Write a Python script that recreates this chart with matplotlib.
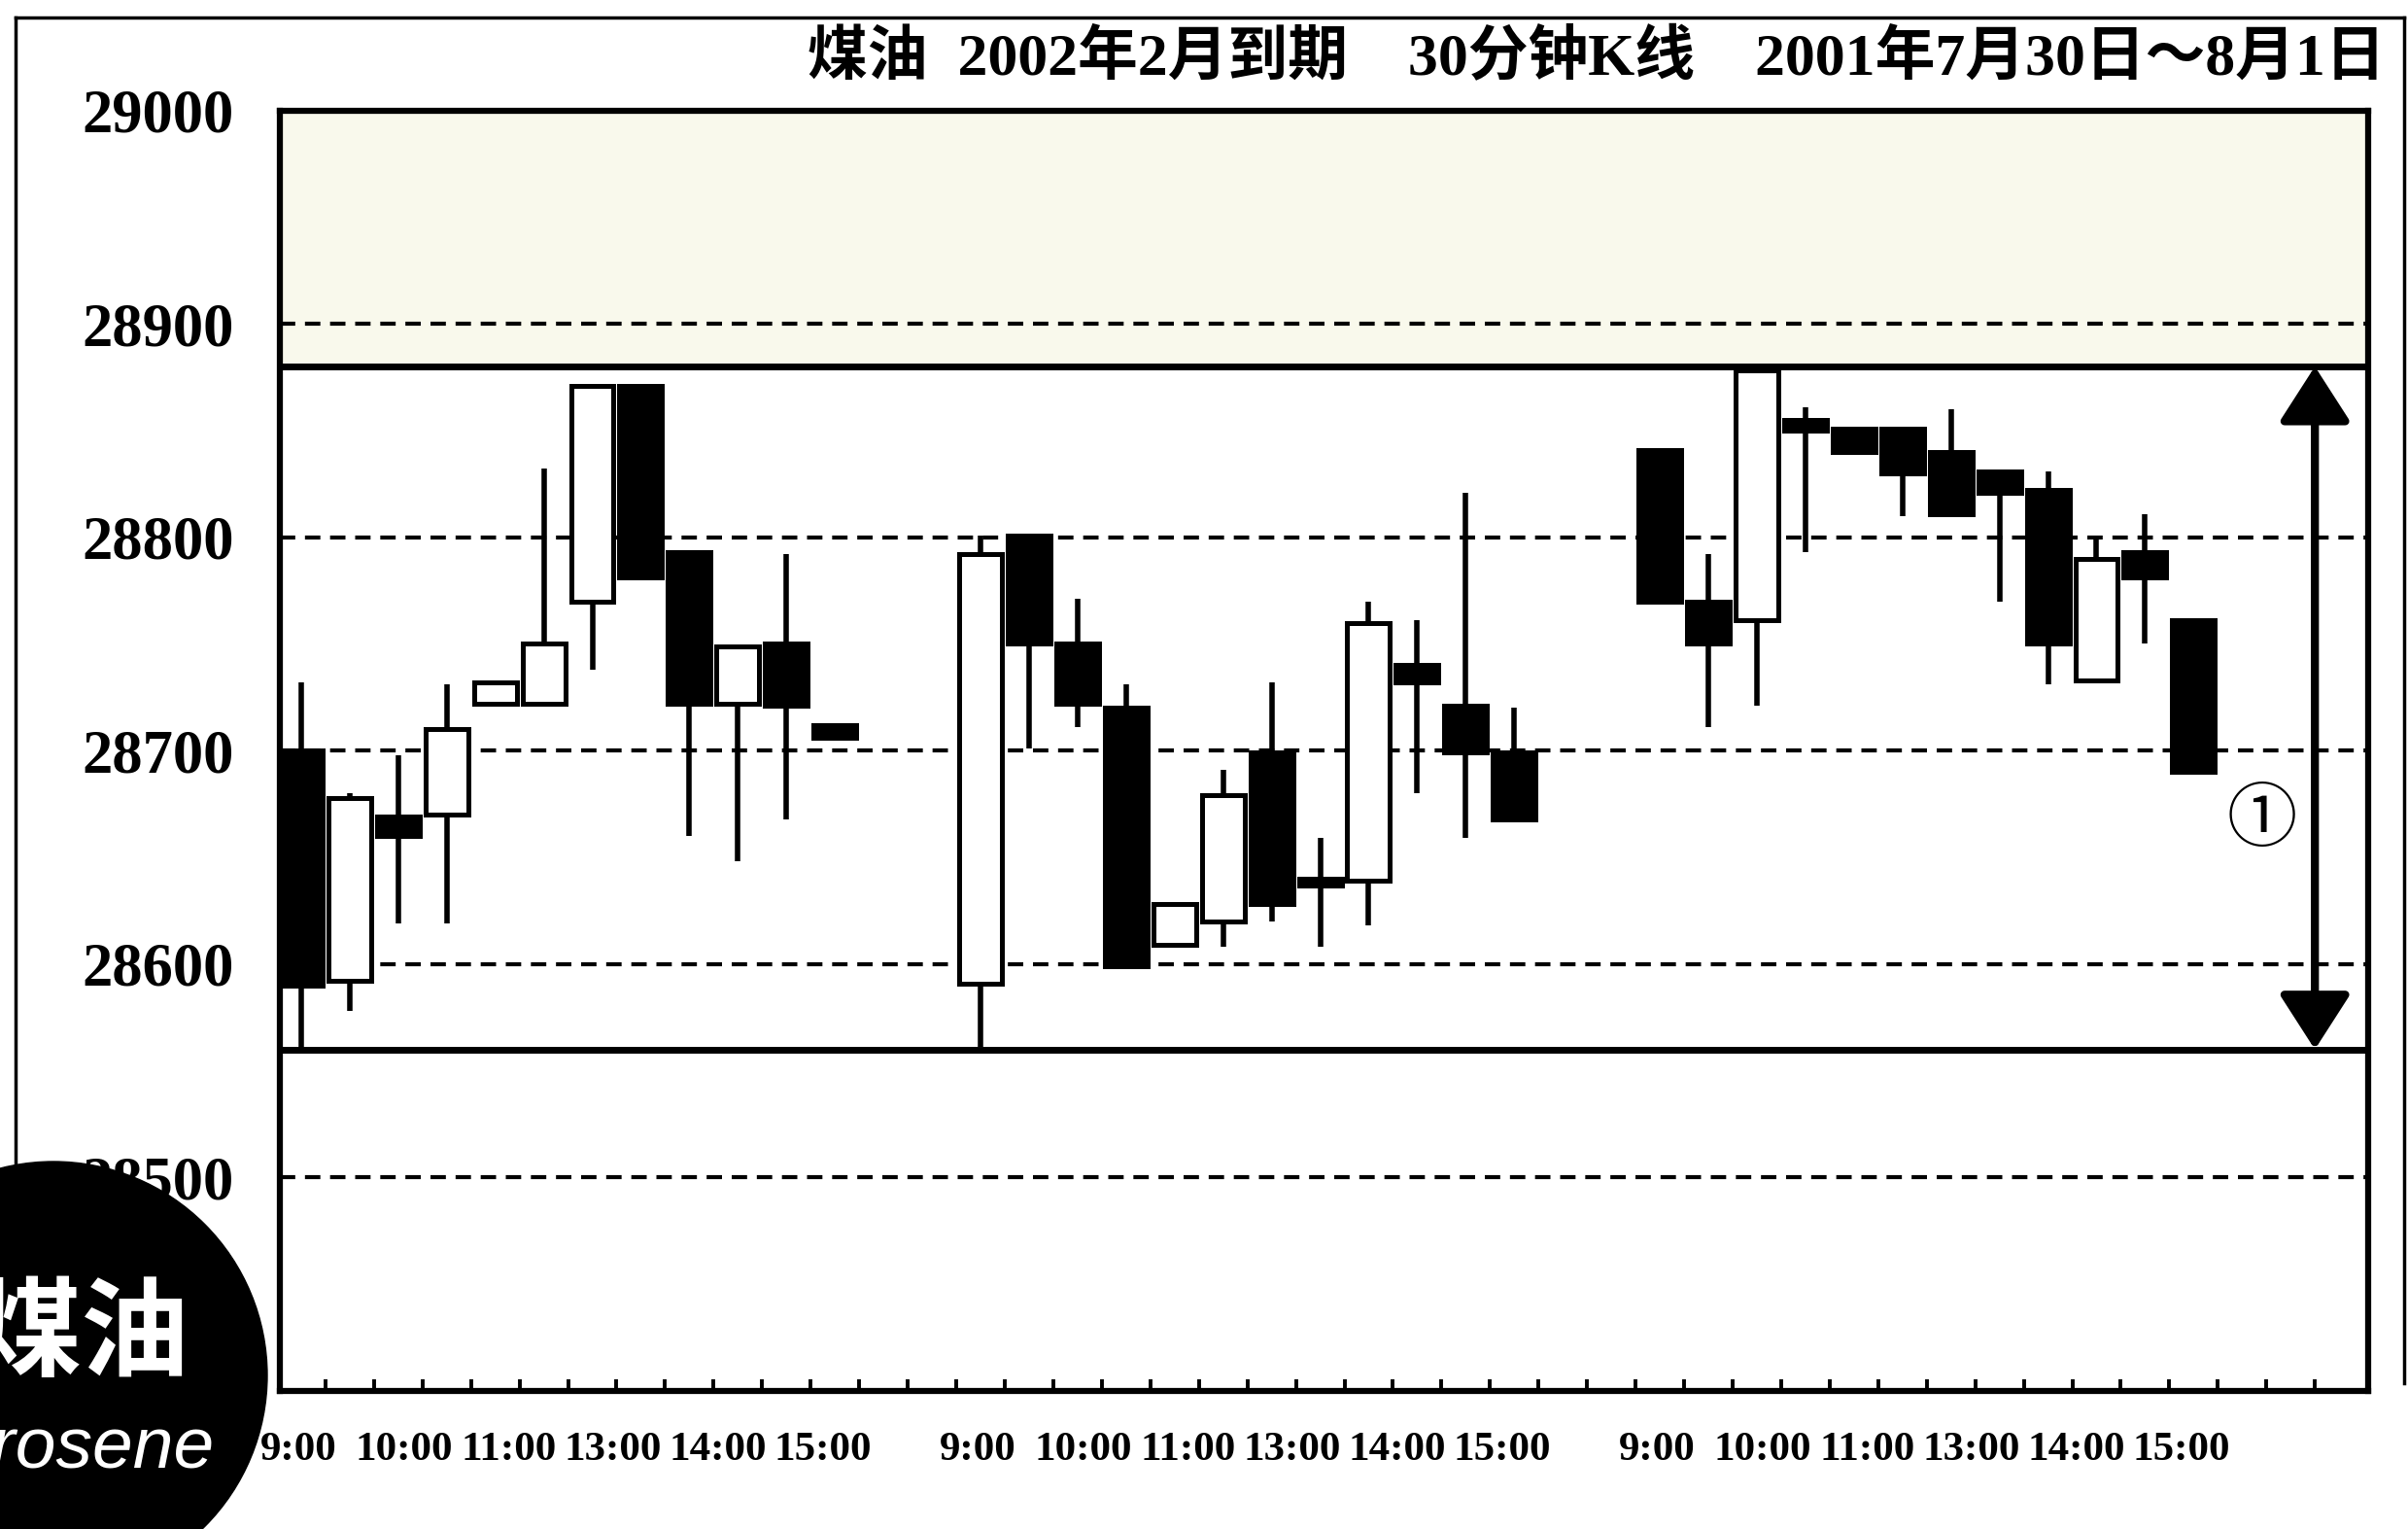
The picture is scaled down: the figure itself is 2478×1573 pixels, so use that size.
import matplotlib.pyplot as plt
from matplotlib.patches import Circle
from matplotlib.lines import Line2D

plt.rcParams["font.family"] = ["Liberation Serif", "Noto Sans CJK SC"]

# 30-minute bars: slot on the x axis (two empty slots between sessions)
slots = list(range(0, 12)) + list(range(14, 26)) + list(range(28, 40))
opens = [28700, 28592, 28669, 28670, 28722, 28722, 28770, 28871, 28793, 28722, 28750, 28712,
         28591, 28801, 28750, 28720, 28609, 28620, 28699, 28640, 28639, 28740, 28721, 28699,
         28841, 28770, 28761, 28855, 28851, 28851, 28840, 28831, 28822, 28733, 28793, 28761]
highs = [28732, 28680, 28698, 28731, 28732, 28832, 28871, 28871, 28793, 28749, 28792, 28712,
         28801, 28801, 28771, 28731, 28628, 28691, 28732, 28659, 28770, 28761, 28821, 28720,
         28841, 28792, 28880, 28861, 28851, 28851, 28860, 28831, 28831, 28801, 28811, 28761]
lows = [28560, 28578, 28619, 28619, 28722, 28722, 28738, 28781, 28660, 28648, 28668, 28706,
        28561, 28701, 28711, 28599, 28609, 28608, 28620, 28608, 28618, 28680, 28659, 28668,
        28770, 28711, 28721, 28793, 28840, 28810, 28811, 28770, 28731, 28733, 28750, 28690]
closes = [28590, 28678, 28660, 28710, 28732, 28750, 28871, 28781, 28722, 28749, 28721, 28706,
          28792, 28750, 28722, 28599, 28628, 28679, 28628, 28637, 28760, 28732, 28699, 28668,
          28770, 28750, 28878, 28850, 28840, 28830, 28811, 28821, 28750, 28790, 28781, 28690]

day_starts = [0, 14, 28]
session_labels = ["9:00", "10:00", "11:00", "13:00", "14:00", "15:00"]
y_levels = [28500, 28600, 28700, 28800, 28900, 29000]
range_high = 28880
range_low = 28560

title = "煤油  2002年2月到期    30分钟K线    2001年7月30日～8月1日"

fig = plt.figure(figsize=(24.78, 15.73), dpi=100, facecolor="white")
ax = fig.add_axes([0.1162, 0.0903, 0.8673, 0.8375])
ax.set_xlim(-0.44, 42.6)
ax.set_ylim(28400, 29000)

# shaded zone above the range
ax.axhspan(range_high, 29000, color="#f9f9ec", zorder=0, lw=0)

for y in y_levels[:-1]:
    ax.axhline(y, color="black", lw=3, dashes=(3.8, 2.4), zorder=1)
for y in (range_high, range_low):
    ax.axhline(y, color="black", lw=5, zorder=2)

# candles
up = [c >= o for o, c in zip(opens, closes)]
ax.vlines(slots, lows, highs, color="black", lw=4, zorder=3)
bottoms = [min(o, c) for o, c in zip(opens, closes)]
heights = [max(abs(c - o), 2) for o, c in zip(opens, closes)]
ax.bar(slots, heights, bottom=bottoms, width=0.88,
       color=["white" if u else "black" for u in up],
       edgecolor="black", linewidth=3.6, zorder=4)

# range arrow
ax.annotate("", xy=(41.5, range_low), xytext=(41.5, range_high),
            arrowprops=dict(arrowstyle="<|-|>,head_length=0.7,head_width=0.45",
                            mutation_scale=50, lw=6, color="black",
                            shrinkA=0, shrinkB=0), zorder=5)
ax.text(40.4, 28666, "①", fontsize=52, ha="center", va="center")

# axes
label_pos = [d + 2.16 * i - 0.05 for d in day_starts for i in range(len(session_labels))]
ax.set_xticks(label_pos)
ax.set_xticklabels(session_labels * len(day_starts), fontweight="bold")
ax.set_xticks([k + 0.5 for k in range(42)], minor=True)
ax.tick_params(axis="x", which="major", length=0, pad=30, labelsize=31)
ax.tick_params(axis="x", which="minor", direction="in", length=8.5, width=2.8)
ax.set_yticks(y_levels)
ax.set_yticklabels([str(v) for v in y_levels], fontweight="bold")
ax.tick_params(axis="y", length=0, pad=34, labelsize=45)
for spine in ax.spines.values():
    spine.set_linewidth(4.5)

fig.text(2455 / 2478, 1512 / 1573, title, ha="right", va="center",
         fontsize=44.5, fontweight="bold")

# page frame
fig.add_artist(Line2D([16 / 2478, 2474 / 2478], [1555 / 1573] * 2,
                      transform=fig.transFigure, color="black", lw=2.5))
fig.add_artist(Line2D([16 / 2478] * 2, [1555 / 1573, 250 / 1573],
                      transform=fig.transFigure, color="black", lw=2.5))
fig.add_artist(Line2D([2474 / 2478] * 2, [1555 / 1573, 150 / 1573],
                      transform=fig.transFigure, color="black", lw=2.5))

# badge
fig.add_artist(Circle((0.55, 1.58), 2.2, transform=fig.dpi_scale_trans,
                      color="black", zorder=5))
fig.text(1.95, 1.98, "煤油", transform=fig.dpi_scale_trans, ha="right", va="center",
         fontsize=80, color="white", family="Noto Sans CJK SC", fontweight="bold", zorder=6)
fig.text(2.21, 0.83, "Kerosene", transform=fig.dpi_scale_trans, ha="right", va="center",
         fontsize=54, color="white", family="Liberation Sans", style="italic", zorder=6)

fig.savefig("out.png", dpi=100)
